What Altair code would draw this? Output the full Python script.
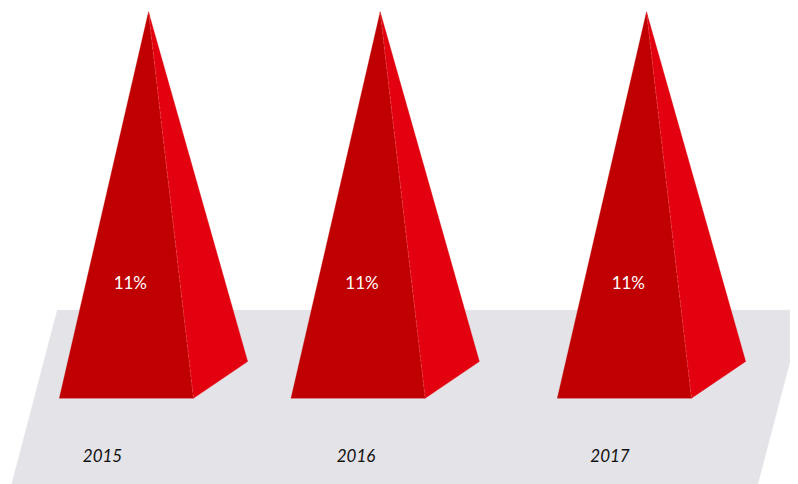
import altair as alt
import pandas as pd

# ---- data ----
years = ["2015", "2016", "2017"]
values = [11, 11, 11]            # percent
value_labels = ["11%", "11%", "11%"]

# ---- layout (page-pixel space) ----
MARGIN = 8
CHART_W, CHART_H = 782, 476
BASE_Y = 398.3
PX_PER_PCT = 386.5 / 11
PYR_LEFT = [59.3, 291.0, 557.3]
BASE_W = 134.2
APEX_DX = 89.2
DEPTH_DX = 54.2
DEPTH_DY = -36.8
LABEL_DX = 71.0
LABEL_Y = 284
YEAR_X = [102.5, 356.0, 610.0]
YEAR_Y = 457
FLOOR_TOP, FLOOR_BOT = 310, 484
FLOOR_TL, FLOOR_BL, FLOOR_TR, FLOOR_BR = 57.3, 11.7, 803.5, 757.9


def px(x, y):
    # page pixel -> chart pixel (identity projection space)
    return [x - MARGIN, y - MARGIN]


def feature(pts, name, closed=True):
    ring = [px(*p) for p in pts]
    if closed:
        ring.append(ring[0])
        geom = {"type": "Polygon", "coordinates": [ring]}
    else:
        geom = {"type": "LineString", "coordinates": ring}
    return {"type": "Feature", "properties": {"name": name}, "geometry": geom}


front_feats, side_feats, seam_feats, lab_rows, year_rows = [], [], [], [], []
for i, (yr, v, lab) in enumerate(zip(years, values, value_labels)):
    L = PYR_LEFT[i]
    R = L + BASE_W
    ax = L + APEX_DX
    apex_y = BASE_Y - v * PX_PER_PCT
    kx, ky = R + DEPTH_DX, BASE_Y + DEPTH_DY
    front_feats.append(feature([(L, BASE_Y), (ax, apex_y), (R, BASE_Y)], yr))
    side_feats.append(feature([(ax, apex_y), (kx, ky), (R, BASE_Y)], yr))
    seam_feats.append(feature([(ax, apex_y), (R, BASE_Y)], yr, closed=False))
    lab_rows.append(dict(x=L + LABEL_DX, y=LABEL_Y, text=lab))
    year_rows.append(dict(x=YEAR_X[i], y=YEAR_Y, text=yr))

floor_feats = [feature([(FLOOR_BL, FLOOR_BOT), (FLOOR_TL, FLOOR_TOP),
                        (FLOOR_TR, FLOOR_TOP), (FLOOR_BR, FLOOR_BOT)], "floor")]
lab_df = pd.DataFrame(lab_rows)
year_df = pd.DataFrame(year_rows)

xs = alt.Scale(domain=[MARGIN, MARGIN + CHART_W], nice=False, zero=False)
ys = alt.Scale(domain=[MARGIN, MARGIN + CHART_H], nice=False, zero=False, reverse=True)


def poly(feats, color):
    return alt.Chart(alt.Data(values=feats)).mark_geoshape(
        fill=color, stroke=color, strokeWidth=0.3, clip=True
    ).project(type="identity", scale=1, translate=[0, 0])


floor = poly(floor_feats, "#E4E3E8")
front = poly(front_feats, "#C00000")
side = poly(side_feats, "#E3000F")
seam = alt.Chart(alt.Data(values=seam_feats)).mark_geoshape(
    filled=False, stroke="#F07070", strokeWidth=0.6, strokeOpacity=0.7,
    strokeDash=[3, 2], clip=True
).project(type="identity", scale=1, translate=[0, 0])

labels = alt.Chart(lab_df).mark_text(
    font="Lato", fontSize=17, color="white", align="center", baseline="middle"
).encode(
    x=alt.X("x:Q", scale=xs, axis=None),
    y=alt.Y("y:Q", scale=ys, axis=None),
    text="text:N",
)

year_text = alt.Chart(year_df).mark_text(
    font="Lato", fontSize=17, fontStyle="italic", color="#111111",
    align="center", baseline="middle"
).encode(
    x=alt.X("x:Q", scale=xs, axis=None),
    y=alt.Y("y:Q", scale=ys, axis=None),
    text="text:N",
)

chart = alt.layer(floor, front, side, seam, labels, year_text).properties(
    width=CHART_W,
    height=CHART_H,
    padding=0,
    autosize=alt.AutoSizeParams(type="fit", contains="padding"),
    background="white",
).configure_view(stroke=None)

chart.save("out.html", embed_options={"renderer": "svg", "actions": False})
